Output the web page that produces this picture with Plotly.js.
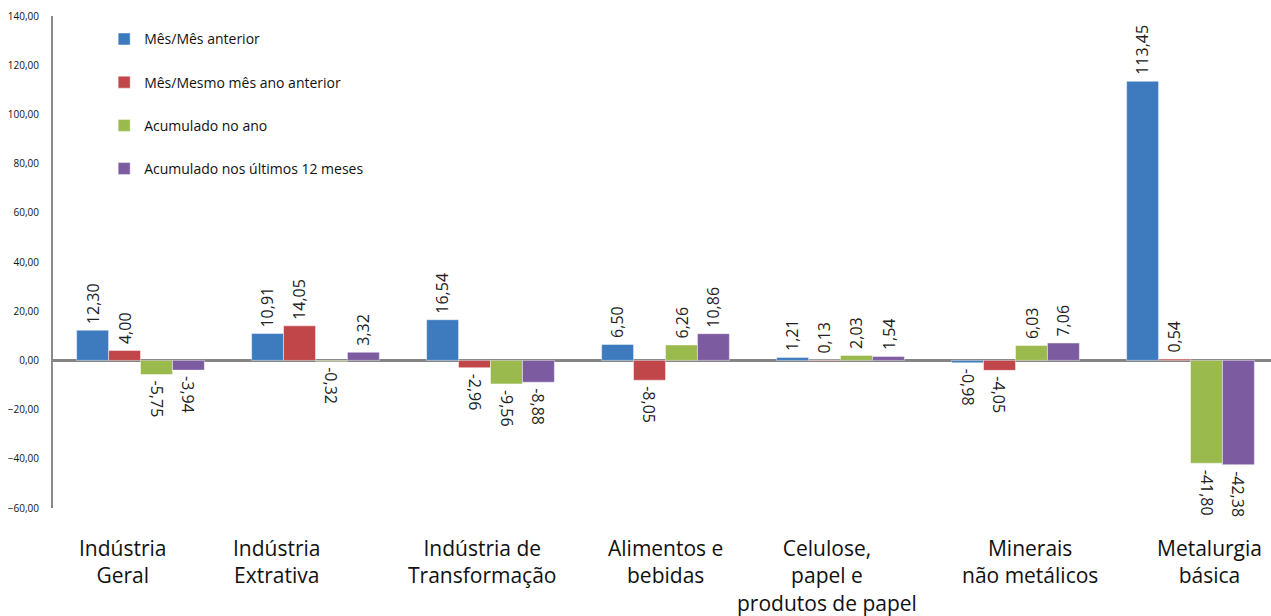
<!DOCTYPE html>
<html>
<head>
<meta charset="utf-8">
<script src="https://cdn.plot.ly/plotly-3.0.1.min.js"></script>
<style>html,body{margin:0;padding:0;background:#fff;}#chart{width:1271px;height:616px;}</style>
</head>
<body>
<div id="chart"></div>
<script>
// ---- data ----
const categories = ["Indústria Geral", "Indústria Extrativa", "Indústria de Transformação", "Alimentos e bebidas", "Celulose, papel e produtos de papel", "Minerais não metálicos", "Metalurgia básica"];
const categoryLabels = ["Indústria<br>Geral", "Indústria<br>Extrativa", "Indústria de<br>Transformação", "Alimentos e<br>bebidas", "Celulose,<br>papel e<br>produtos de papel", "Minerais<br>não metálicos", "Metalurgia<br>básica"];
const seriesNames = ["Mês/Mês anterior", "Mês/Mesmo mês ano anterior", "Acumulado no ano", "Acumulado nos últimos 12 meses"];
const mesMesAnterior = [12.30, 10.91, 16.54, 6.50, 1.21, -0.98, 113.45];
const mesMesmoMesAnoAnterior = [4.00, 14.05, -2.96, -8.05, 0.13, -4.05, 0.54];
const acumuladoNoAno = [-5.75, -0.32, -9.56, 6.26, 2.03, 6.03, -41.80];
const acumulado12Meses = [-3.94, 3.32, -8.88, 10.86, 1.54, 7.06, -42.38];
const yTickValues = [-60, -40, -20, 0, 20, 40, 60, 80, 100, 120, 140];

// ---- style ----
const colors = ["#3E7BBE", "#C0464A", "#9BBA4E", "#7D5BA1"];
const barOffsets = [-48, -16, 16, 48];
const labelShift = [-18, -39, -9, 0, -14, 14, 19];
const FONT = "Open Sans, sans-serif";

const seriesValues = [mesMesAnterior, mesMesmoMesAnoAnterior, acumuladoNoAno, acumulado12Meses];
const fmt = v => v.toFixed(2).replace(".", ",");

const traces = seriesValues.map((vals, i) => ({
  type: "bar",
  name: seriesNames[i],
  x: categories,
  y: vals,
  legendgroup: "g" + i,
  marker: {color: colors[i], line: {color: "rgba(255,255,255,0.45)", width: 1}},
  hoverinfo: "skip"
}));

const annotations = [];
seriesValues.forEach((vals, i) => {
  vals.forEach((v, j) => {
    annotations.push({
      x: categories[j], xref: "x", y: v, yref: "y",
      xshift: barOffsets[i],
      yshift: v >= 0 ? 4 : -4,
      yanchor: v >= 0 ? "bottom" : "top",
      xanchor: "center",
      textangle: v >= 0 ? -90 : 90,
      text: fmt(v),
      showarrow: false,
      font: {family: FONT, size: 16, color: "#222"}
    });
  });
});
categories.forEach((c, j) => {
  annotations.push({
    x: c, xref: "x", y: 0, yref: "paper",
    yanchor: "top", xanchor: "center",
    xshift: labelShift[j], yshift: -24,
    text: categoryLabels[j], align: "center",
    showarrow: false,
    font: {family: FONT, size: 21, color: "#111"}
  });
});

const layout = {
  width: 1271, height: 616,
  margin: {l: 53, r: 0, t: 16, b: 108},
  paper_bgcolor: "#fff", plot_bgcolor: "#fff",
  barmode: "group",
  bargap: 0.27, bargroupgap: 0,
  separators: ",.",
  showlegend: true,
  legend: {
    x: 0.042, y: 0.985, xanchor: "left", yanchor: "top",
    font: {family: FONT, size: 14, color: "#111"},
    tracegroupgap: 22,
    bgcolor: "rgba(0,0,0,0)"
  },
  xaxis: {
    type: "category",
    range: [-0.5, 6.46],
    showticklabels: false,
    showgrid: false, zeroline: false, showline: false, ticks: ""
  },
  yaxis: {
    range: [-60, 140],
    tickvals: yTickValues,
    tickformat: ".2f",
    tickfont: {family: FONT, size: 10, color: "#111"},
    showgrid: false,
    zeroline: true, zerolinecolor: "#858585", zerolinewidth: 2.5,
    showline: true, linecolor: "#8a8a8a", linewidth: 2,
    ticks: "", ticklabelstandoff: 10
  },
  annotations: annotations
};

Plotly.newPlot("chart", traces, layout, {staticPlot: true, displayModeBar: false});
</script>
</body>
</html>
